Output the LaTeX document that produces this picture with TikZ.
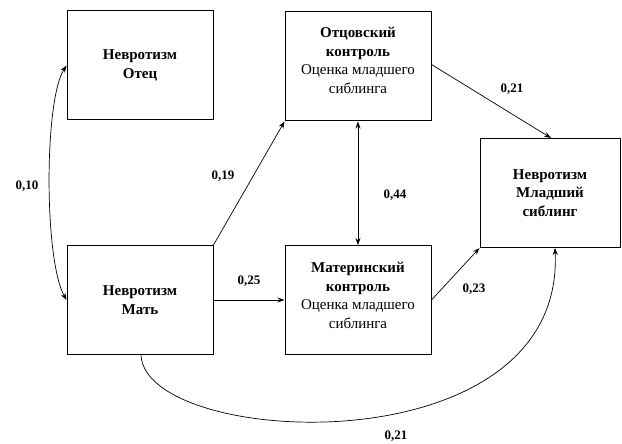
\documentclass[tikz,border=0pt]{standalone}
\usepackage{fontspec}
\setmainfont{Liberation Serif}
\usetikzlibrary{arrows.meta}
\begin{document}
\begin{tikzpicture}[x=1pt,y=-1pt,
  box/.style={draw,line width=1pt,minimum width=146pt,minimum height=109pt,inner sep=0pt,align=center,font=\fontsize{15}{18.5}\selectfont},
  txt/.style={align=center,anchor=north,inner sep=0pt,font=\fontsize{15}{18.5}\selectfont},
  conn/.style={line width=0.7pt,-{Stealth[length=7pt,width=5pt]}},
  bconn/.style={line width=0.7pt,{Stealth[length=7pt,width=5pt]}-{Stealth[length=7pt,width=5pt]}},
  lab/.style={font=\bfseries\fontsize{13}{15}\selectfont}]
\useasboundingbox (0,0) rectangle (622,444);
\node[box] (fn) at (140,65.5) {\textbf{Невротизм}\\\textbf{Отец}};
\node[box] (fc) at (358,66.5) {};
\node[txt] (fct) at (358,27) {\textbf{Отцовский}\\\textbf{контроль}\\Оценка младшего\\сиблинга};
\node[box] (mn) at (140,300) {\textbf{Невротизм}\\\textbf{Мать}};
\node[box] (mc) at (358,300) {};
\node[txt] (mct) at (358,262) {\textbf{Материнский}\\\textbf{контроль}\\Оценка младшего\\сиблинга};
\node[box,minimum width=140pt] (sib) at (550,193) {\textbf{Невротизм}\\\textbf{Младший}\\\textbf{сиблинг}};
\draw[bconn] (fn.west) .. controls (44,100) and (44,260) .. (mn.west);
\draw[conn] (mn.north east) -- (fc.south west);
\draw[conn] (mn.east) -- (mc.west);
\draw[bconn] (fc.south) -- (mc.north);
\draw[conn] ([yshift=2pt]fc.east) -- ([xshift=1pt]sib.north);
\draw[conn] (mc.east) -- (sib.south west);
\draw[conn] ([xshift=1pt]mn.south) .. controls (145,448) and (565,470) .. ([xshift=5pt]sib.south);
\node[lab] (l1) at (27,186) {0,10};
\node[lab] (l2) at (223,176) {0,19};
\node[lab] (l3) at (249,281) {0,25};
\node[lab] (l4) at (395,195) {0,44};
\node[lab] (l5) at (512,89) {0,21};
\node[lab] (l6) at (474,289) {0,23};
\node[lab] (l7) at (396,436) {0,21};
\end{tikzpicture}
\end{document}
